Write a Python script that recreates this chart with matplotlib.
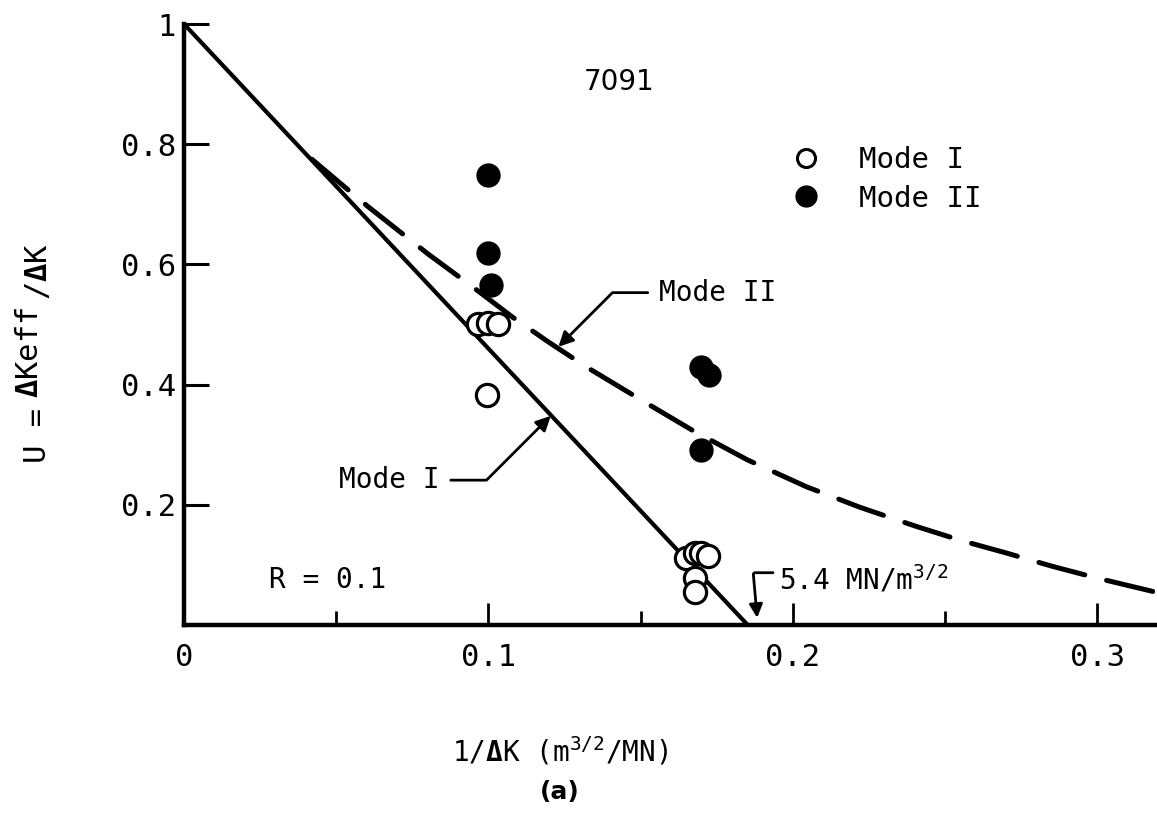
import matplotlib
matplotlib.use("Agg")
import matplotlib.pyplot as plt
from matplotlib.lines import Line2D

# open circles, Mode I
mode1_x = [0.0965, 0.100, 0.1033, 0.0995, 0.165, 0.168, 0.170, 0.172, 0.168, 0.168]
mode1_u = [0.500, 0.502, 0.500, 0.383, 0.112, 0.120, 0.120, 0.115, 0.078, 0.055]

# filled circles, Mode II
mode2_x = [0.100, 0.100, 0.101, 0.170, 0.1726, 0.170]
mode2_u = [0.749, 0.619, 0.566, 0.430, 0.416, 0.291]

# fitted lines
line1_x = [0.0, 1 / 5.4]
line1_u = [1.0, 0.0]
line2_x = [0.042, 0.060, 0.080, 0.095, 0.108, 0.120, 0.132, 0.150, 0.167, 0.185,
           0.2045, 0.222, 0.240, 0.255, 0.270, 0.285, 0.300, 0.319]
line2_u = [0.775, 0.698, 0.618, 0.562, 0.512, 0.470, 0.430, 0.375, 0.324, 0.275,
           0.230, 0.196, 0.165, 0.141, 0.120, 0.098, 0.078, 0.055]

plt.rcParams["font.family"] = ["DejaVu Sans Mono"]
plt.rcParams["mathtext.fontset"] = "custom"
plt.rcParams["mathtext.rm"] = "DejaVu Sans Mono"
plt.rcParams["mathtext.bf"] = "DejaVu Sans Mono:bold"

fig = plt.figure(figsize=(11.57, 8.13), dpi=100)
ax = fig.add_axes([184 / 1157, 188 / 813, 971 / 1157, 601 / 813])

ax.plot(line1_x, line1_u, color="black", lw=3.0, solid_capstyle="butt")
ax.plot(line2_x, line2_u, color="black", lw=3.6, dashes=(9.5, 4.5), dash_capstyle="round")

ax.plot(mode1_x, mode1_u, "o", ms=16, mfc="white", mec="black", mew=2.3, ls="none")
ax.plot(mode2_x, mode2_u, "o", ms=16.5, color="black", ls="none")

ax.set_xlim(0, 0.319)
ax.set_ylim(0, 1.0)
for s in ["top", "right"]:
    ax.spines[s].set_visible(False)
for s in ["left", "bottom"]:
    ax.spines[s].set_linewidth(3.2)

ax.set_xticks([0, 0.1, 0.2, 0.3])
ax.set_xticklabels(["0", "0.1", "0.2", "0.3"])
ax.set_xticks([0.05, 0.15, 0.25], minor=True)
ax.set_yticks([0.2, 0.4, 0.6, 0.8, 1.0])
ax.set_yticklabels(["0.2", "0.4", "0.6", "0.8", "1"])
ax.tick_params(axis="x", which="major", direction="in", length=16, width=2, labelsize=22, pad=13)
ax.tick_params(axis="x", which="minor", direction="in", length=10, width=2)
ax.tick_params(axis="y", which="major", direction="in", length=18, width=2.2, labelsize=22, pad=6)

# y label, built from three rotated pieces (the middle one raised)
fig.text(38 / 1157, 1 - 463 / 813, "U =", rotation=90, ha="center", va="bottom", fontsize=22)
fig.text(30 / 1157, 1 - 398 / 813, r"$\mathbf{\Delta}$Keff", rotation=90, ha="center",
         va="bottom", fontsize=22)
fig.text(38 / 1157, 1 - 300 / 813, r"/$\mathbf{\Delta}$K", rotation=90, ha="center",
         va="bottom", fontsize=22)

ax.set_xlabel(r"1/$\mathbf{\Delta}$K (m$^{3/2}$/MN)", fontsize=20)
ax.xaxis.set_label_coords(0.387, -0.183)
ax.text(0.387, -0.278, "(a)", transform=ax.transAxes, ha="center", va="center",
        fontsize=18, fontweight="bold", family="DejaVu Sans")

ax.text(0.143, 0.903, "7091", ha="center", va="center", fontsize=20, family="DejaVu Sans")
ax.text(0.028, 0.075, "R = 0.1", ha="left", va="center", fontsize=20)

ax.annotate("Mode I", xy=(0.1205, 0.348), xytext=(0.084, 0.241), ha="right", va="center",
            fontsize=20,
            arrowprops=dict(arrowstyle="-|>", color="black", lw=2, mutation_scale=22,
                            connectionstyle="angle,angleA=0,angleB=45,rad=0", shrinkA=6, shrinkB=0))
ax.annotate("Mode II", xy=(0.123, 0.463), xytext=(0.156, 0.553), ha="left", va="center",
            fontsize=20,
            arrowprops=dict(arrowstyle="-|>", color="black", lw=2, mutation_scale=22,
                            connectionstyle="angle,angleA=0,angleB=45,rad=0", shrinkA=6, shrinkB=0))
ax.annotate("", xy=(0.1883, 0.012), xytext=(0.1935, 0.087),
            arrowprops=dict(arrowstyle="-|>", color="black", lw=2, mutation_scale=20,
                            connectionstyle="angle,angleA=180,angleB=95,rad=2", shrinkA=0, shrinkB=0))
ax.text(0.1955, 0.075, r"5.4 MN/m$^{3/2}$", ha="left", va="center", fontsize=20)

handles = [
    Line2D([], [], marker="o", ls="none", ms=13, mfc="white", mec="black", mew=2.2),
    Line2D([], [], marker="o", ls="none", ms=15, color="black"),
]
ax.legend(handles, ["Mode I", "Mode II"], loc="upper left", bbox_to_anchor=(0.584, 0.84),
          frameon=False, fontsize=21, handletextpad=0.8, labelspacing=0.35)

fig.savefig("out.png", dpi=100)
